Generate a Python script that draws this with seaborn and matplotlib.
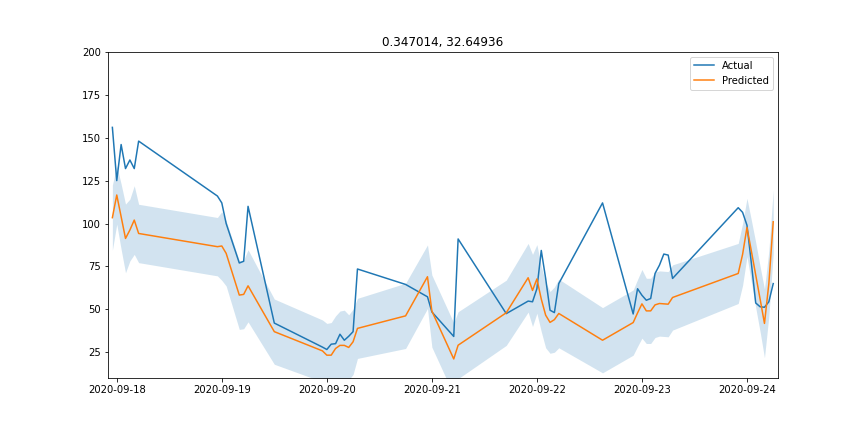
import numpy as np
import pandas as pd
import matplotlib
matplotlib.use("Agg")
import matplotlib.pyplot as plt
import matplotlib.dates as mdates
import seaborn as sns

title = "0.347014, 32.64936"
start = "2020-09-18 00:00"

# hours relative to 2020-09-18 00:00 at which observations exist
hours = [-1, 0, 1, 2, 3, 4, 5,
         23, 24, 25, 28, 29, 30,
         36,
         47, 48, 49, 50, 51, 52, 53, 54, 55,
         66, 71, 72, 77, 78, 89,
         94, 95, 96, 97, 98, 99, 100, 101,
         111,
         118, 119, 120, 121, 122, 123, 124, 125, 126, 127,
         142, 143, 144, 145, 146, 147, 148, 149, 150]

actual = [156, 125, 146, 132, 137, 132, 148,
          116, 112, 100, 77, 78, 110,
          42,
          28, 26.6, 29.7, 30, 35.5, 32, 34.3, 37, 73.5,
          64.5, 57.3, 48.5, 34.2, 91, 47.5,
          54.8, 54.4, 62, 84.3, 68, 49.5, 48.1, 65,
          112,
          47.3, 62, 58.2, 55.3, 56.3, 70.9, 75.7, 82.2, 81.6, 68,
          109.2, 106.5, 99, 77, 53.7, 51.5, 51.2, 54.4, 65]

predicted = [103.4, 116.6, 104, 91.3, 96.2, 102, 94.2,
             86.5, 86.9, 82.6, 58.3, 58.7, 63.7,
             37,
             25.8, 23.3, 23.3, 27.2, 29, 29, 27.8, 31.1, 38.9,
             46.2, 69, 49, 21.1, 29.1, 48,
             68.4, 61, 67.7, 56, 46.6, 42.4, 44, 47.6,
             32,
             42.3, 47.9, 53.2, 49.1, 49.1, 52.6, 53.4, 53.2, 53, 56.9,
             70.9, 82, 97.7, 84, 70, 56, 41.8, 65, 101]

# half-width of the shaded interval around the prediction
spread = [19, 17, 19, 20, 18, 20, 17,
          17, 20, 19, 20, 20, 21,
          19,
          18, 18.5, 19, 19, 20, 20.5, 19, 19, 17.5,
          19, 18.5, 21, 21, 19.5, 19,
          20, 21, 20, 19, 19, 18, 19, 20,
          19,
          19, 19.5, 20, 19, 19, 19, 19, 19, 19, 19,
          17.5, 18, 17, 18, 19, 19, 20, 19, 18.5]

y_ticks = [25, 50, 75, 100, 125, 150, 175, 200]

times = pd.Timestamp(start) + pd.to_timedelta(hours, unit="h")
df = pd.DataFrame({"time": times, "Actual": actual, "Predicted": predicted})
pred = np.array(predicted)
sp = np.array(spread)

fig, ax = plt.subplots(figsize=(12, 6), dpi=72)
fig.subplots_adjust(left=0.125, right=0.9, top=0.88, bottom=0.125)

sns.lineplot(data=df, x="time", y="Actual", ax=ax, color="C0", label="Actual")
sns.lineplot(data=df, x="time", y="Predicted", ax=ax, color="C1", label="Predicted")
ax.fill_between(df["time"], pred - sp, pred + sp, color="C0", alpha=0.2, linewidth=0)

ax.set_xlim(times[0] - pd.Timedelta(hours=1), times[-1] + pd.Timedelta(hours=1))
ax.set_ylim(10, 200)
ax.set_yticks(y_ticks)
ax.xaxis.set_major_locator(mdates.DayLocator())
ax.xaxis.set_major_formatter(mdates.DateFormatter("%Y-%m-%d"))
ax.set_xlabel("")
ax.set_ylabel("")
ax.set_title(title)
ax.legend(loc="upper right")

fig.savefig("out.png", dpi=72)
